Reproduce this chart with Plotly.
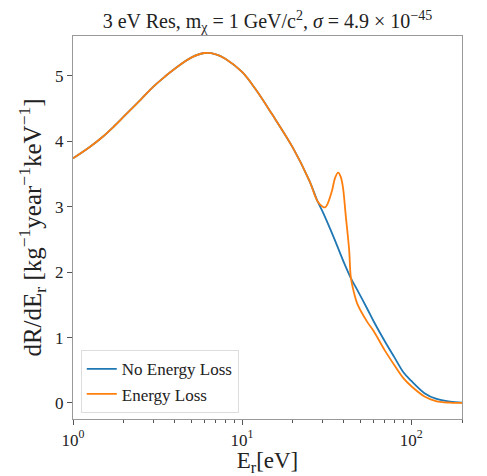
import plotly.graph_objects as go

# Recoil energy grid (eV) and rates
E_no_loss = [1, 1.25, 1.5, 1.75, 2, 2.5, 3, 3.5, 4, 5, 6, 7, 8, 10, 12, 15, 20, 25, 28, 30, 35,
             40, 44, 48, 55, 60, 70, 80, 90, 100, 120, 140, 170, 200]
R_no_loss = [3.74, 3.91, 4.07, 4.23, 4.38, 4.63, 4.84, 4.99, 5.11, 5.28, 5.35, 5.33, 5.26, 5.06,
             4.80, 4.42, 3.90, 3.40, 3.08, 2.92, 2.52, 2.15, 1.91, 1.73, 1.44, 1.25, 0.94, 0.69,
             0.47, 0.34, 0.15, 0.065, 0.02, 0.005]

E_loss = [1, 1.25, 1.5, 1.75, 2, 2.5, 3, 3.5, 4, 5, 6, 7, 8, 10, 12, 15, 20, 25, 28, 30, 31, 32,
          34, 35.5, 37, 38.3, 39.5, 41, 43, 44, 46, 48, 55, 60, 70, 80, 90, 100, 120, 140, 170, 200]
R_loss = [3.74, 3.91, 4.07, 4.23, 4.38, 4.63, 4.84, 4.99, 5.11, 5.28, 5.35, 5.33, 5.26, 5.06,
          4.80, 4.42, 3.90, 3.40, 3.08, 3.00, 2.99, 3.04, 3.24, 3.44, 3.52, 3.46, 3.30, 2.88,
          2.34, 1.92, 1.68, 1.52, 1.24, 1.10, 0.80, 0.57, 0.38, 0.26, 0.10, 0.03, 0.005, 0.0]

x_tickvals = [1, 10, 100]
x_ticktext = ["10<sup>0</sup>", "10<sup>1</sup>", "10<sup>2</sup>"]
x_minor = [2, 3, 4, 5, 6, 7, 8, 9, 20, 30, 40, 50, 60, 70, 80, 90, 200]
y_tickvals = [0, 1, 2, 3, 4, 5]

FONT = "Liberation Serif"
TXT = "#222222"

# page body has an 8px margin, so the figure is sized/offset to compensate
W, H = 479, 468

fig = go.Figure()
fig.add_trace(go.Scatter(x=E_no_loss, y=R_no_loss, mode="lines", name="No Energy Loss",
                         line=dict(color="#1f77b4", width=1.8, shape="spline", smoothing=1.0)))
fig.add_trace(go.Scatter(x=E_loss, y=R_loss, mode="lines", name="Energy Loss",
                         line=dict(color="#ff7f0e", width=1.8, shape="spline", smoothing=1.0)))

fig.update_layout(
    width=W, height=H,
    margin=dict(l=65, r=25, t=28, b=57, autoexpand=False),
    paper_bgcolor="white", plot_bgcolor="white",
    font=dict(family=FONT, color=TXT),
    title=dict(text="3 eV Res, m<sub>χ</sub> = 1 GeV/c<sup>2</sup>, <i>σ</i> = 4.9 × 10<sup>−45</sup>",
               x=0.5, xref="paper", xanchor="center", y=1 - 13 / H, yref="container", yanchor="middle",
               font=dict(family=FONT, size=20, color=TXT)),
    legend=dict(x=0.02, y=0.015, xanchor="left", yanchor="bottom",
                bgcolor="rgba(255,255,255,0.9)", bordercolor="#dddddd", borderwidth=1,
                font=dict(family=FONT, size=17, color=TXT),
                tracegroupgap=0),
    showlegend=True,
)

fig.update_xaxes(
    type="log", range=[0, 2.301], automargin=False,
    tickvals=x_tickvals, ticktext=x_ticktext,
    ticks="outside", ticklen=5, tickwidth=1, tickcolor="#555555",
    minor=dict(tickvals=x_minor, ticks="outside", ticklen=3, tickwidth=0.8, tickcolor="#555555"),
    showgrid=False, zeroline=False,
    showline=True, linecolor="#999999", linewidth=1.2, mirror=True,
    tickfont=dict(family=FONT, size=17, color=TXT),
    title=dict(text="E<sub>r</sub>[eV]", font=dict(family=FONT, size=23, color=TXT), standoff=2),
)
fig.update_yaxes(
    range=[-0.245, 5.61], automargin=False,
    tickvals=y_tickvals,
    ticks="outside", ticklen=5, tickwidth=1, tickcolor="#555555",
    showgrid=False, zeroline=False,
    showline=True, linecolor="#999999", linewidth=1.2, mirror=True,
    tickfont=dict(family=FONT, size=17, color=TXT),
    title=dict(text="dR/dE<sub>r</sub> [kg<sup>−1</sup>year<sup>−1</sup>keV<sup>−1</sup>]",
               font=dict(family=FONT, size=25, color=TXT), standoff=6),
)

fig.write_html("out.html")
